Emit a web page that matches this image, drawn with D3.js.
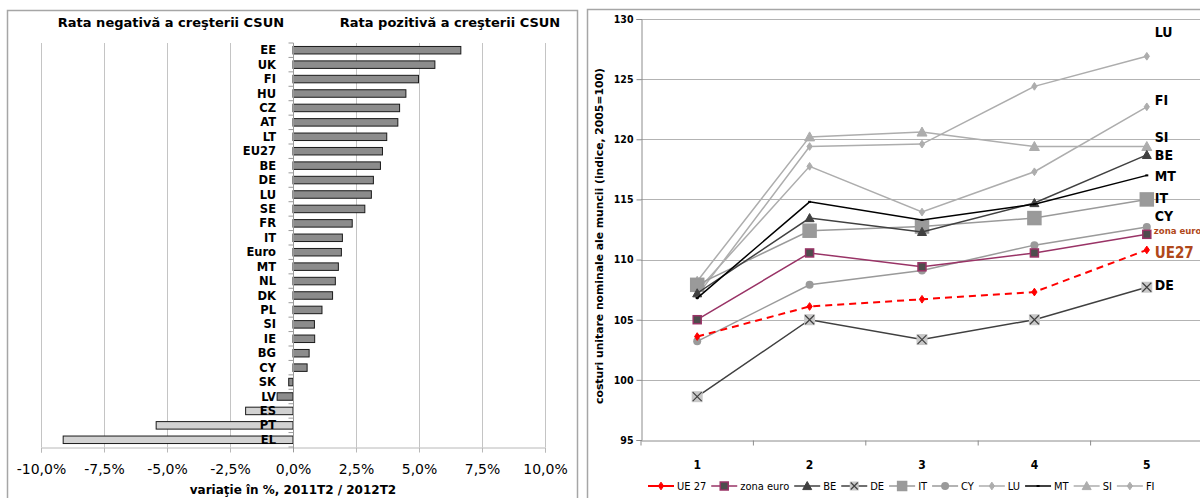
<!DOCTYPE html>
<html><head><meta charset="utf-8">
<script src="https://cdn.jsdelivr.net/npm/d3@7"></script>
<style>
html,body{margin:0;padding:0;background:#fff;}
svg{display:block;}
.narrow{font-family:"Liberation Sans Narrow","DejaVu Sans Condensed","Liberation Sans",sans-serif;}
.wide{font-family:"DejaVu Sans",Verdana,sans-serif;}
</style></head>
<body>
<svg id="chart" width="1200" height="498"></svg>
<script>
// ---------- LEFT CHART DATA ----------
const barCategories = ["EE","UK","FI","HU","CZ","AT","LT","EU27","BE","DE","LU","SE","FR","IT","Euro","MT","NL","DK","PL","SI","IE","BG","CY","SK","LV","ES","PT","EL"];
const barValues = [6.66,5.63,4.98,4.48,4.23,4.16,3.72,3.55,3.47,3.19,3.11,2.85,2.35,1.96,1.92,1.80,1.68,1.57,1.15,0.85,0.86,0.64,0.56,-0.17,-0.63,-1.88,-5.43,-9.12];
const barLight = ["ES","PT","EL"];
const barTicks = [-10,-7.5,-5,-2.5,0,2.5,5,7.5,10];
const leftTitles = ["Rata negativă a creşterii CSUN","Rata pozitivă a creşterii CSUN"];
const leftAxisTitle = "variaţie în %, 2011T2 / 2012T2";

// ---------- RIGHT CHART DATA ----------
const periods = [1,2,3,4,5];
const seriesNames = ["UE 27","zona euro","BE","DE","IT","CY","LU","MT","SI","FI"];
const seriesUE27 = [103.6,106.1,106.7,107.3,110.8];
const seriesEuro = [105.0,110.55,109.4,110.55,112.1];
const seriesBE   = [107.2,113.45,112.3,114.7,118.7];
const seriesDE   = [98.6,105.0,103.35,105.0,107.7];
const seriesIT   = [107.9,112.4,112.75,113.45,115.0];
const seriesCY   = [103.2,107.9,109.1,111.2,112.7];
const seriesLU   = [107.0,119.4,119.6,124.4,126.9];
const seriesMT   = [106.8,114.8,113.3,114.6,117.0];
const seriesSI   = [108.2,120.2,120.6,119.4,119.4];
const seriesFI   = [107.4,117.75,113.95,117.3,122.7];
const yTicks = [95,100,105,110,115,120,125,130];
const endLabels = ["LU","FI","SI","BE","MT","IT","CY","zona euro","UE27","DE"];
const endLabelValues = [128.9,123.3,120.2,118.7,116.95,115.1,113.6,112.45,110.55,107.9];
const yAxisTitle = "costuri unitare nominale ale muncii (indice, 2005=100)";

const svg = d3.select("#chart");
svg.append("rect").attr("width",1200).attr("height",498).attr("fill","#fff");

// ---------- panel frames ----------
svg.append("rect").attr("x",7.5).attr("y",10.5).attr("width",570).attr("height",500)
  .attr("fill","none").attr("stroke","#a6a6a6").attr("stroke-width",1.5);
svg.append("rect").attr("x",587.5).attr("y",9.5).attr("width",640).attr("height",500)
  .attr("fill","none").attr("stroke","#a6a6a6").attr("stroke-width",1.5);

// ================= LEFT =================
const L = svg.append("g");
const x = d3.scaleLinear().domain([-10,10]).range([41,545]);
const y = d3.scaleBand().domain(barCategories).range([43,447]).paddingInner(0.48).paddingOuter(0.24);
const yb = d3.scaleBand().domain(barCategories).range([43,447]);
const loc = d3.formatLocale({decimal:",",thousands:".",grouping:[3],currency:["","€"],minus:"-"});
const pct = loc.format(".1f");

// gridlines
L.append("g").selectAll("line").data(barTicks.filter(d=>d!==0)).join("line")
  .attr("x1",d=>Math.round(x(d))+0.5).attr("x2",d=>Math.round(x(d))+0.5)
  .attr("y1",43).attr("y2",447).attr("stroke","#c4c4c4").attr("stroke-width",1);

// bottom axis
const xAxis = d3.axisBottom(x).tickValues(barTicks).tickFormat(d=>pct(d)+"%").tickSize(5).tickPadding(12);
const gx = L.append("g").attr("transform","translate(0,447.5)").call(xAxis);
gx.select(".domain").attr("stroke","#b8b8b8");
gx.selectAll(".tick line").attr("stroke","#b8b8b8");
gx.selectAll(".tick text").attr("class","wide").attr("font-size",14).attr("fill","#000");

// bars
L.append("g").selectAll("rect").data(barCategories).join("rect")
  .attr("x",(d,i)=>x(Math.min(0,barValues[i])))
  .attr("width",(d,i)=>Math.abs(x(barValues[i])-x(0)))
  .attr("y",d=>y(d)).attr("height",y.bandwidth())
  .attr("fill",d=>barLight.includes(d)?"#d2d2d2":"#8c8c8c")
  .attr("stroke","#1a1a1a").attr("stroke-width",1);

// category axis at zero
const gy = L.append("g").attr("transform",`translate(${Math.round(x(0))+0.5},0)`);
gy.append("line").attr("x1",0).attr("x2",0).attr("y1",43).attr("y2",452).attr("stroke","#9a9a9a");
gy.selectAll(null).data(d3.range(barCategories.length+1)).join("line")
  .attr("x1",-5).attr("x2",0)
  .attr("y1",i=>43+i*yb.step()).attr("y2",i=>43+i*yb.step())
  .attr("stroke","#9a9a9a");
L.append("g").selectAll("text").data(barCategories).join("text")
  .attr("class","wide").attr("font-weight","bold").attr("font-size",11.5)
  .attr("text-anchor","end").attr("x",x(0)-17).attr("y",d=>yb(d)+yb.bandwidth()/2)
  .attr("dy","0.36em").text(d=>d);

// titles
L.append("text").attr("class","wide").attr("font-weight","bold").attr("font-size",13)
  .attr("text-anchor","middle").attr("x",171).attr("y",27).text(leftTitles[0]);
L.append("text").attr("class","wide").attr("font-weight","bold").attr("font-size",13)
  .attr("text-anchor","middle").attr("x",450).attr("y",27).text(leftTitles[1]);
L.append("text").attr("class","wide").attr("font-weight","bold").attr("font-size",12)
  .attr("text-anchor","middle").attr("x",x(0)).attr("y",494).text(leftAxisTitle);

// ================= RIGHT =================
const R = svg.append("g");
const px = d3.scaleBand().domain(periods).range([641,1203]);
const cx = d => px(d)+px.bandwidth()/2;
const py = d3.scaleLinear().domain([95,130]).range([440,19]);

R.append("g").selectAll("line").data(yTicks.filter(d=>d>95)).join("line")
  .attr("x1",641).attr("x2",1200).attr("y1",d=>Math.round(py(d))+0.5).attr("y2",d=>Math.round(py(d))+0.5)
  .attr("stroke","#b3b3b3").attr("stroke-width",1.2);

const ga = R.append("g").attr("transform","translate(641.5,0)")
  .call(d3.axisLeft(py).tickValues(yTicks).tickSize(5).tickPadding(3));
ga.select(".domain").attr("stroke","#8c8c8c");
ga.selectAll(".tick line").attr("stroke","#8c8c8c");
ga.selectAll(".tick text").attr("class","narrow").attr("font-weight","bold").attr("font-size",10.5).attr("fill","#000");

const gb = R.append("g").attr("transform","translate(0,440.5)")
  .call(d3.axisBottom(px).tickSize(0).tickPadding(20));
gb.select(".domain").attr("stroke","#8c8c8c");
gb.selectAll(".tick text").attr("class","narrow").attr("font-weight","bold").attr("font-size",12).attr("fill","#000");
gb.selectAll(null).data(d3.range(periods.length+1)).join("line")
  .attr("x1",i=>641+i*px.step()).attr("x2",i=>641+i*px.step()).attr("y1",0).attr("y2",5).attr("stroke","#8c8c8c");

R.append("text").attr("class","wide").attr("font-weight","bold").attr("font-size",10.8)
  .attr("text-anchor","middle").attr("transform","translate(603,236) rotate(-90)").text(yAxisTitle);

const styles = {
  "UE 27":    {data:seriesUE27, color:"#ff0000", width:2, dash:"7,5", marker:"diamond", fill:"#ff0000", stroke:"#ff0000", size:7},
  "zona euro":{data:seriesEuro, color:"#993366", width:1.5, marker:"square", fill:"#4d4d4d", stroke:"#993366", size:8},
  "BE":       {data:seriesBE, color:"#404040", width:1.5, marker:"triangle", fill:"#404040", stroke:"#404040", size:9},
  "DE":       {data:seriesDE, color:"#404040", width:1.5, marker:"x", fill:"#c8c8c8", stroke:"#404040", size:11},
  "IT":       {data:seriesIT, color:"#9a9a9a", width:1.5, marker:"square", fill:"#9a9a9a", stroke:"#9a9a9a", size:13},
  "CY":       {data:seriesCY, color:"#9a9a9a", width:1.5, marker:"circle", fill:"#9a9a9a", stroke:"#9a9a9a", size:8},
  "LU":       {data:seriesLU, color:"#adadad", width:1.5, marker:"diamond", fill:"#adadad", stroke:"#adadad", size:7},
  "MT":       {data:seriesMT, color:"#000000", width:1.5, marker:"dash", fill:"#000", stroke:"#000", size:6},
  "SI":       {data:seriesSI, color:"#adadad", width:1.5, marker:"triangle", fill:"#adadad", stroke:"#adadad", size:10},
  "FI":       {data:seriesFI, color:"#adadad", width:1.5, marker:"diamond", fill:"#adadad", stroke:"#adadad", size:7}
};

function drawMarker(g, st, X, Y){
  const s = st.size, h = s/2;
  if(st.marker==="diamond"){
    g.append("path").attr("d",`M${X},${Y-h*1.1}L${X+h*0.75},${Y}L${X},${Y+h*1.1}L${X-h*0.75},${Y}Z`).attr("fill",st.fill).attr("stroke",st.stroke);
  } else if(st.marker==="square"){
    g.append("rect").attr("x",X-h).attr("y",Y-h).attr("width",s).attr("height",s).attr("fill",st.fill).attr("stroke",st.stroke).attr("stroke-width",1.5);
  } else if(st.marker==="triangle"){
    g.append("path").attr("d",`M${X},${Y-h}L${X+h},${Y+h*0.8}L${X-h},${Y+h*0.8}Z`).attr("fill",st.fill).attr("stroke",st.stroke);
  } else if(st.marker==="circle"){
    g.append("circle").attr("cx",X).attr("cy",Y).attr("r",h).attr("fill",st.fill);
  } else if(st.marker==="x"){
    g.append("rect").attr("x",X-h).attr("y",Y-h).attr("width",s).attr("height",s).attr("fill",st.fill);
    g.append("path").attr("d",`M${X-h+1},${Y-h+1}L${X+h-1},${Y+h-1}M${X+h-1},${Y-h+1}L${X-h+1},${Y+h-1}`).attr("stroke",st.stroke).attr("stroke-width",1.2);
  } else if(st.marker==="dash"){
    g.append("line").attr("x1",X-h/2).attr("x2",X+h/2).attr("y1",Y).attr("y2",Y).attr("stroke",st.stroke).attr("stroke-width",2);
  }
}

const line = d3.line().x((d,i)=>cx(periods[i])).y(d=>py(d));
const drawOrder = ["FI","SI","LU","CY","IT","DE","BE","MT","zona euro","UE 27"];
drawOrder.forEach(name=>{
  const st = styles[name];
  const g = R.append("g");
  g.append("path").attr("d",line(st.data)).attr("fill","none").attr("stroke",st.color)
    .attr("stroke-width",st.width).attr("stroke-dasharray",st.dash||null);
  st.data.forEach((v,i)=>drawMarker(g, st, cx(periods[i]), py(v)));
});

// end labels
R.append("g").selectAll("text").data(endLabels).join("text")
  .attr("class","narrow").attr("font-weight","bold")
  .attr("font-size",d=>d==="zona euro"?9.5:(d==="UE27"?15:14))
  .attr("fill",d=>(d==="zona euro"||d==="UE27")?"#b0481a":"#000")
  .attr("x",d=>cx(5)+(d==="zona euro"?7:8))
  .attr("y",(d,i)=>py(endLabelValues[i])).attr("dy","0.36em").text(d=>d);

// legend
const lg = R.append("g").attr("transform","translate(0,486)");
let lx = 648;
seriesNames.forEach(name=>{
  const st = styles[name];
  const g = lg.append("g");
  g.append("line").attr("x1",lx).attr("x2",lx+26).attr("y1",0).attr("y2",0)
    .attr("stroke",st.color).attr("stroke-width",st.width);
  const ms = Object.assign({},st,{size:Math.min(st.size,9)});
  drawMarker(g, ms, lx+13, 0);
  const t = g.append("text").attr("class","narrow").attr("font-size",11).attr("x",lx+29).attr("y",0).attr("dy","0.36em").text(name);
  lx = lx + 29 + t.node().getComputedTextLength() + 5;
});
</script>
</body></html>
